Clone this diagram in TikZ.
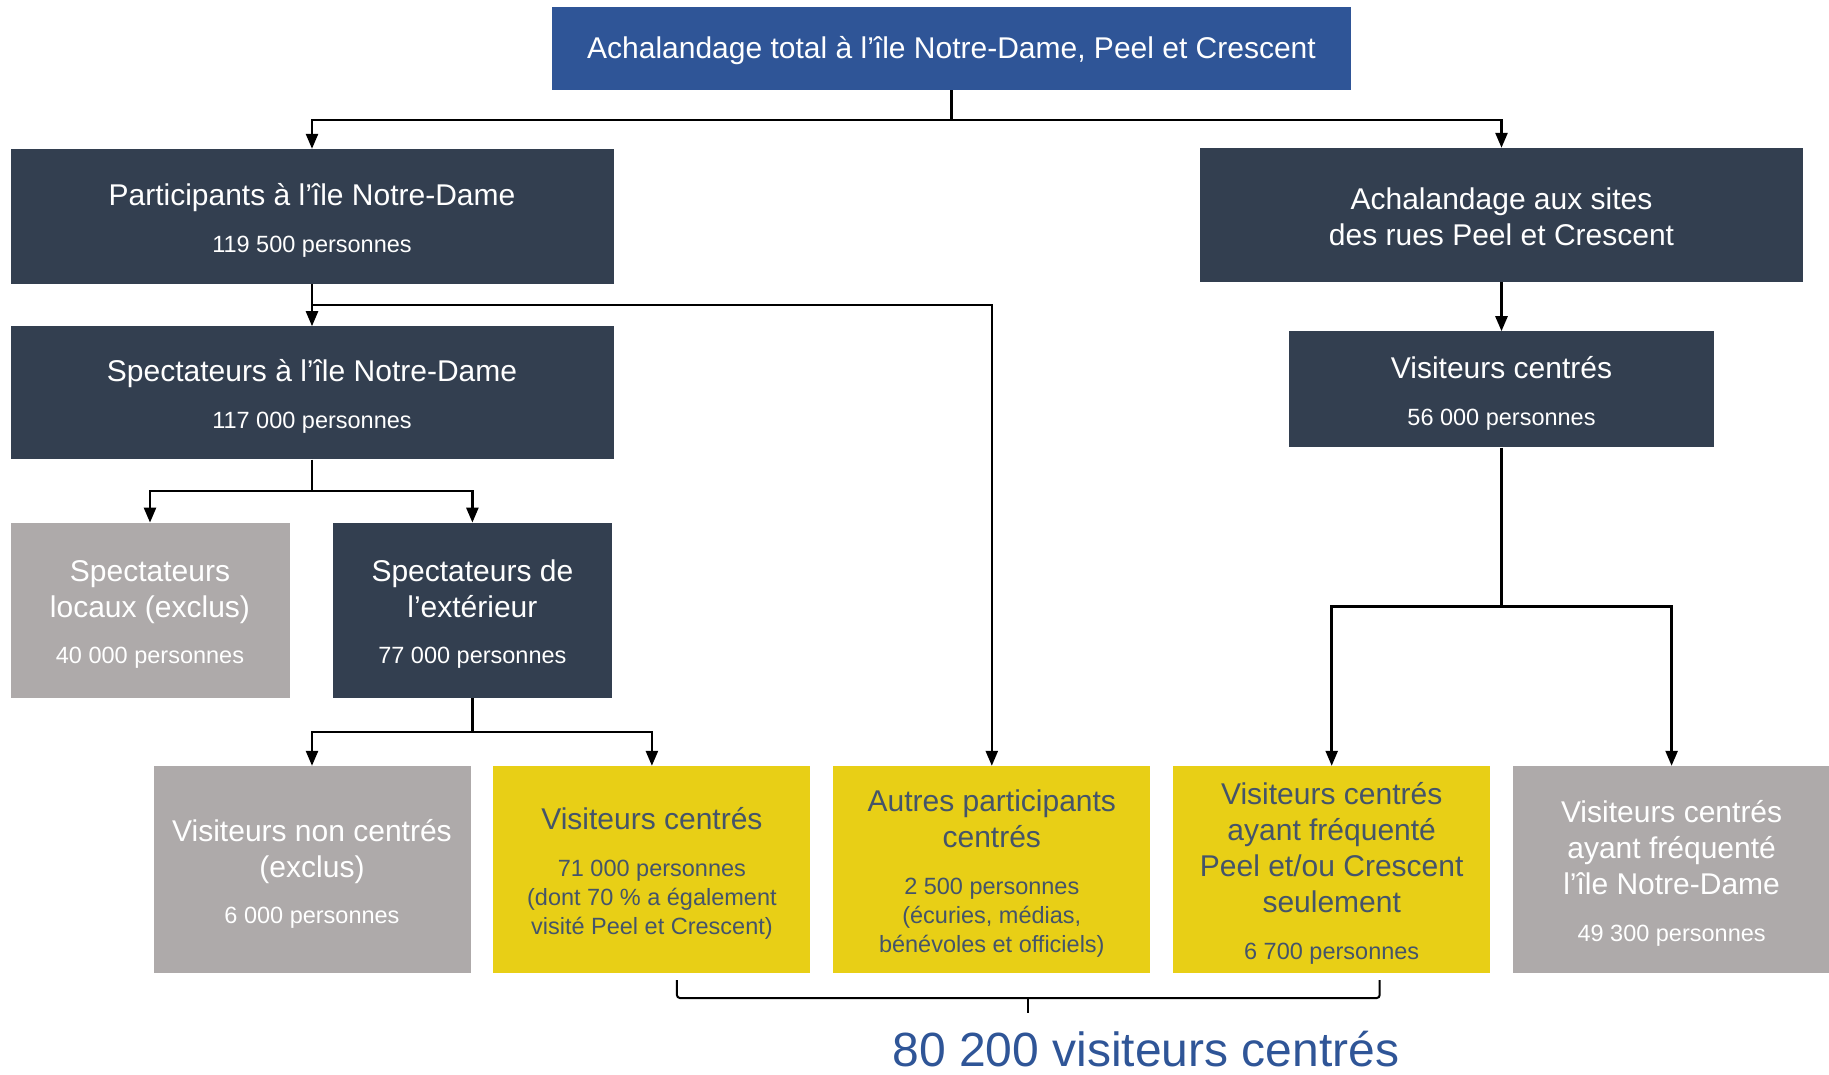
\documentclass[tikz,border=0pt]{standalone}
\usepackage{fontspec}
\setmainfont{Liberation Sans}
\usepackage{tikz}
\usetikzlibrary{arrows.meta}
\usetikzlibrary{positioning,calc}
\definecolor{topblue}{HTML}{2F5597}
\definecolor{slate}{HTML}{333F50}
\definecolor{boxgrey}{HTML}{AEAAAA}
\definecolor{boxyellow}{HTML}{E8CF16}
\definecolor{yellowtext}{HTML}{44546A}
\newcommand{\pers}{\fontsize{23.5}{28}\selectfont}
\newcommand{\hstrut}{\rule{0pt}{30pt}}
\tikzset{font={\fontsize{30}{36}\selectfont}}
\tikzset{
  box/.style={rectangle, inner sep=0pt, align=center, text=white},
  topbox/.style={box, fill=topblue, minimum width=799pt, minimum height=83pt},
  darkbox/.style={box, fill=slate},
  greybox/.style={box, fill=boxgrey},
  yellowbox/.style={box, fill=boxyellow, text=yellowtext},
  widebox/.style={minimum width=603pt, minimum height=135pt},
  midbox/.style={minimum width=279pt, minimum height=175pt},
  lowbox/.style={minimum width=317pt, minimum height=207pt},
  arr/.style={-{Triangle[length=15pt,width=12pt]}, line width=2.5pt},
}

\begin{document}
\begin{tikzpicture}
  \useasboundingbox (0,0) rectangle (1829pt,-1074pt);

  % Define nodes
  \node[topbox] (total) at (951.5pt,-48.5pt) {\rule{0pt}{27pt}Achalandage total à l’île Notre-Dame, Peel et Crescent};
  \node[darkbox, widebox] (part) at (312pt,-216.5pt) {\hstrut Participants à l’île Notre-Dame\\[11pt]\pers 119~500 personnes};
  \node[darkbox, widebox, minimum height=133pt, below=42pt of part] (spec) {\hstrut Spectateurs à l’île Notre-Dame\\[11pt]\pers 117~000 personnes};
  \node[greybox, midbox, below=63pt of spec.south west, anchor=north west] (local) {\hstrut Spectateurs\\locaux (exclus)\\[10pt]\pers 40~000 personnes};
  \node[darkbox, midbox, right=43pt of local] (ext) {\hstrut Spectateurs de\\l’extérieur\\[10pt]\pers 77~000 personnes};
  \node[darkbox, widebox, minimum height=134pt] (sites) at (1501.5pt,-215pt) {\rule{0pt}{26pt}Achalandage aux sites\\des rues Peel et Crescent};
  \node[darkbox, minimum width=425pt, minimum height=116pt, below=49pt of sites] (vcd) {\hstrut Visiteurs centrés\\[11pt]\pers 56~000 personnes};

  \node[greybox, lowbox] (nc) at (312pt,-869.5pt) {\hstrut Visiteurs non centrés\\(exclus)\\[10pt]\pers 6~000 personnes};
  \node[yellowbox, lowbox, right=22.5pt of nc] (vc) {\hstrut Visiteurs centrés\\[11pt]\pers 71~000 personnes\\[-7pt]\pers (dont 70~\% a également\\[-7pt]\pers visité Peel et Crescent)};
  \node[yellowbox, lowbox, right=22.5pt of vc] (autres) {\hstrut Autres participants\\centrés\\[11pt]\pers 2~500 personnes\\[-7pt]\pers (écuries, médias,\\[-7pt]\pers bénévoles et officiels)};
  \node[yellowbox, lowbox, right=22.5pt of autres] (peel) {\hstrut Visiteurs centrés\\ayant fréquenté\\Peel et/ou Crescent\\seulement\\[11pt]\pers 6~700 personnes};
  \node[greybox, lowbox, right=22.5pt of peel] (ile) {\hstrut Visiteurs centrés\\ayant fréquenté\\l’île Notre-Dame\\[11pt]\pers 49~300 personnes};

  \node[text=topblue, font=\fontsize{48}{56}\selectfont, anchor=base] (sum) at (1146pt,-1066pt) {80~200 visiteurs centrés};

  % Connect the nodes
  \coordinate (j1) at ([yshift=-30pt]total.south);
  \draw[line width=2.5pt] (total.south) -- (j1);
  \draw[arr] (j1) -| (part.north);
  \draw[arr] (j1) -| (sites.north);

  \draw[arr] (part.south) -- (spec.north);
  \coordinate (j2) at ($(part.south)!0.5!(spec.north)$);
  \draw[arr] (j2) -| (autres.north);

  \coordinate (j3) at ($(spec.south)!0.5!(local.north -| spec.south)$);
  \draw[line width=2.5pt] (spec.south) -- (j3);
  \draw[arr] (j3) -| (local.north);
  \draw[arr] (j3) -| (ext.north);

  \coordinate (j4) at ($(ext.south)!0.5!(nc.north -| ext.south)$);
  \draw[line width=2.5pt] (ext.south) -- (j4);
  \draw[arr] (j4) -| (nc.north);
  \draw[arr] (j4) -| (vc.north);

  \draw[arr] (sites.south) -- (vcd.north);
  \coordinate (j5) at ($(vcd.south)!0.5!(peel.north -| vcd.south)$);
  \draw[line width=2.5pt] (vcd.south) -- (j5);
  \draw[arr] (j5) -| (peel.north);
  \draw[arr] (j5) -| (ile.north);

  % Brace
  \coordinate (bl) at ([xshift=25pt,yshift=-7pt]vc.south);
  \coordinate (br) at ([xshift=48pt,yshift=-7pt]peel.south);
  \coordinate (bm) at (1028pt,-998pt);
  \draw[line width=2pt, rounded corners=3pt] (bl) -- (bl |- bm) -- (br |- bm) -- (br);
  \draw[line width=2pt] (bm) -- ++(0,-15pt);
\end{tikzpicture}
\end{document}
